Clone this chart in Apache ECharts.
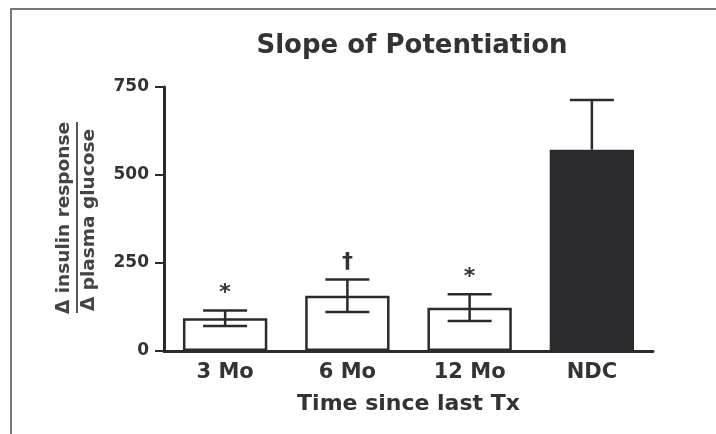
<!DOCTYPE html>
<html>
<head>
<meta charset="utf-8">
<script src="https://cdn.jsdelivr.net/npm/echarts@6/dist/echarts.min.js"></script>
<style>
  html, body { margin: 0; padding: 0; background: #fff; }
  #chart { width: 716px; height: 434px; }
</style>
</head>
<body>
<div id="chart"></div>
<script>
// values
const categories = ['3 Mo', '6 Mo', '12 Mo', 'NDC'];
const means = [93, 157, 123, 572];
const sems = [22, 46, 38, 141];
const marks = ['*', '\u2020', '*', ''];
const barColors = ['#ffffff', '#ffffff', '#ffffff', '#2c2b30'];

const font = '"DejaVu Sans", Arial, sans-serif';
const ink = '#2b2b2b';

const chart = echarts.init(document.getElementById('chart'));

const option = {
  animation: false,
  title: {
    text: 'Slope of Potentiation',
    left: 407,
    textAlign: 'center',
    top: 28,
    textStyle: { fontFamily: font, fontSize: 26, fontWeight: 'bold', color: '#333' }
  },
  grid: { left: 164, right: 63, top: 87, bottom: 83 },
  xAxis: {
    type: 'category',
    data: categories,
    name: 'Time since last Tx',
    nameLocation: 'middle',
    nameGap: 42,
    nameTextStyle: { fontFamily: font, fontSize: 22, fontWeight: 'bold', color: '#333' },
    axisLine: { lineStyle: { color: ink, width: 3 } },
    axisTick: { alignWithLabel: true, length: 7, lineStyle: { color: ink, width: 3 } },
    axisLabel: { margin: 11, fontFamily: font, fontSize: 21, fontWeight: 'bold', color: '#333' }
  },
  yAxis: {
    type: 'value',
    min: 0,
    max: 750,
    interval: 250,
    splitLine: { show: false },
    axisLine: { show: true, lineStyle: { color: ink, width: 3 } },
    axisTick: { show: true, length: 9, lineStyle: { color: ink, width: 2 } },
    axisLabel: { margin: 15, fontFamily: font, fontSize: 17, fontWeight: 'bold', color: '#333' }
  },
  graphic: [
    // frame of the figure panel
    { type: 'line', shape: { x1: 10, y1: 9, x2: 716, y2: 9 }, style: { stroke: '#777', lineWidth: 2 } },
    { type: 'line', shape: { x1: 11, y1: 9, x2: 11, y2: 434 }, style: { stroke: '#777', lineWidth: 2 } },
    // y axis label as a fraction
    {
      type: 'text', x: 64, y: 218, rotation: Math.PI / 2,
      style: { text: '\u0394 insulin response', font: 'bold 18.5px ' + font, fill: '#444', textAlign: 'center', textVerticalAlign: 'middle' }
    },
    { type: 'line', shape: { x1: 77, y1: 122, x2: 77, y2: 313 }, style: { stroke: '#555', lineWidth: 2 } },
    {
      type: 'text', x: 89, y: 220, rotation: Math.PI / 2,
      style: { text: '\u0394 plasma glucose', font: 'bold 18.5px ' + font, fill: '#444', textAlign: 'center', textVerticalAlign: 'middle' }
    }
  ],
  series: [
    {
      type: 'bar',
      barWidth: '69%',
      data: means.map((v, i) => ({ value: v, itemStyle: { color: barColors[i] } })),
      itemStyle: { borderColor: ink, borderWidth: 2.5 },
      z: 2
    },
    {
      type: 'custom',
      z: 3,
      data: categories.map((c, i) => [i, means[i], sems[i]]),
      renderItem: function (params, api) {
        const i = api.value(0);
        const m = api.value(1);
        const e = api.value(2);
        const top = api.coord([i, m + e]);
        const mid = api.coord([i, m]);
        const bot = api.coord([i, m - e]);
        const half = 22;
        const st = { stroke: ink, lineWidth: 2.5 };
        const children = [
          { type: 'line', shape: { x1: top[0], y1: top[1], x2: mid[0], y2: i === 3 ? mid[1] : bot[1] }, style: st },
          { type: 'line', shape: { x1: top[0] - half, y1: top[1], x2: top[0] + half, y2: top[1] }, style: st }
        ];
        if (i !== 3) {
          children.push({ type: 'line', shape: { x1: bot[0] - half, y1: bot[1], x2: bot[0] + half, y2: bot[1] }, style: st });
        }
        if (marks[i]) {
          children.push({
            type: 'text',
            style: {
              text: marks[i], x: top[0], y: top[1] - 6,
              textAlign: 'center', textVerticalAlign: 'bottom',
              font: 'bold 22px ' + font, fill: '#333'
            }
          });
        }
        return { type: 'group', children: children };
      }
    }
  ]
};

chart.setOption(option);
</script>
</body>
</html>
